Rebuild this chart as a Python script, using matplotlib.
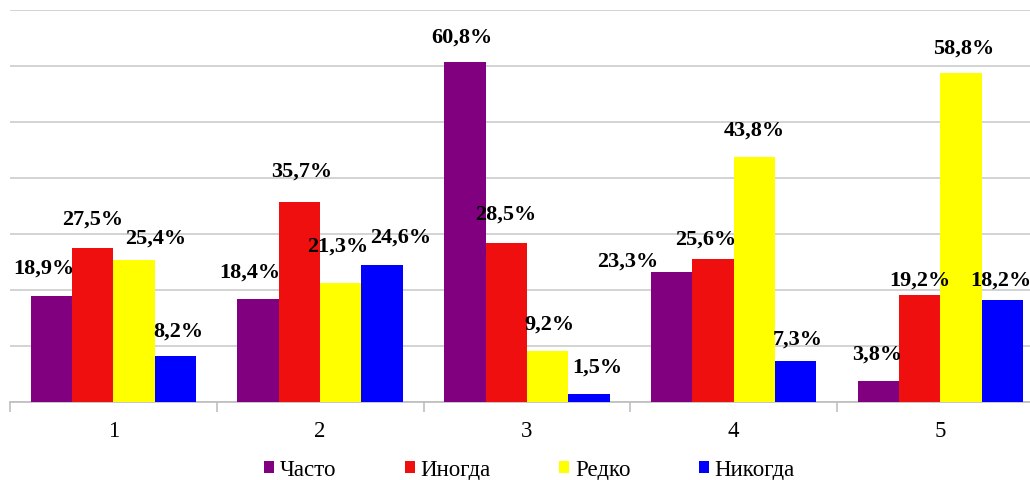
import matplotlib
matplotlib.use("Agg")
import matplotlib.pyplot as plt
from matplotlib.patches import Patch
import numpy as np

categories = ["1", "2", "3", "4", "5"]
series_names = ["Часто", "Иногда", "Редко", "Никогда"]
chasto = [18.9, 18.4, 60.8, 23.3, 3.8]
inogda = [27.5, 35.7, 28.5, 25.6, 19.2]
redko = [25.4, 21.3, 9.2, 43.8, 58.8]
nikogda = [8.2, 24.6, 1.5, 7.3, 18.2]
series_values = [chasto, inogda, redko, nikogda]

colors = ["#800080", "#F00F0F", "#FFFF00", "#0000FF"]

# label offsets (pixels: dx right, dy up from bar top) -- style/placement only
label_offsets = [
    [(-7, 29), (-8.5, 28), (-3, 25), (-44, 11), (-1.5, 27.7)],
    [(-0.5, 29.3), (2, 32), (0, 29), (-7, 20), (0, 15.3)],
    [(21.4, 22.4), (-3.5, 37), (2, 27), (0, 27.7), (3, 25.7)],
    [(3, 26), (18.5, 28), (8, 27), (2, 23), (-1.5, 21)],
]

plt.rcParams['font.family'] = ['Liberation Serif', 'DejaVu Serif']

W, H = 1030, 481
fig = plt.figure(figsize=(W / 100, H / 100), dpi=100)
left_px, right_px = 10, 1043.75
base_px, top_px = 403.3, 11.3
ax = fig.add_axes([left_px / W, 1 - base_px / H,
                   (right_px - left_px) / W, (base_px - top_px) / H])

x = np.arange(len(categories))
bw = 0.2
offs = [-0.3, -0.1, 0.1, 0.3]
px2pt = 0.72
for i, (name, vals) in enumerate(zip(series_names, series_values)):
    ax.bar(x + offs[i], vals, width=bw, color=colors[i], label=name,
           linewidth=0, zorder=3)
    for j, v in enumerate(vals):
        dx, dy = label_offsets[i][j]
        ax.annotate(f"{v:.1f}%".replace(".", ","), (x[j] + offs[i], v),
                    xytext=(dx * px2pt, dy * px2pt), textcoords="offset points",
                    ha="center", va="center", fontsize=16, fontweight="bold",
                    color="black", zorder=5, annotation_clip=False)

ax.set_xlim(-0.5, len(categories) - 0.5)
ax.set_ylim(0, 70)
ax.set_yticks(np.arange(0, 71, 10))
ax.yaxis.grid(True, color="#D0D0D0", linewidth=1.3, zorder=0)
ax.set_axisbelow(True)
ax.tick_params(axis="y", left=False, labelleft=False)

ax.set_xticks(x)
ax.set_xticklabels(categories, fontsize=16.5)
ax.set_xticks(np.arange(-0.5, len(categories), 1), minor=True)
ax.tick_params(axis="x", which="major", length=0, pad=13)
ax.tick_params(axis="x", which="minor", length=7, width=1.2, color="#C0C0C0")

for s in ["top", "right", "left"]:
    ax.spines[s].set_visible(False)
ax.spines["bottom"].set_color("#C0C0C0")
ax.spines["bottom"].set_linewidth(1.3)

handles = [Patch(facecolor=c, edgecolor="none", label=n)
           for c, n in zip(colors, series_names)]
fs_px = 16.5 / 0.72
fig.legend(handles=handles, loc="center", ncol=4,
           bbox_to_anchor=(529.5 / W, 1 - 470.5 / H),
           frameon=False, fontsize=16.5,
           handlelength=10 / fs_px, handleheight=10 / fs_px,
           handletextpad=6 / fs_px, columnspacing=68 / fs_px,
           borderpad=0, borderaxespad=0)

fig.savefig("out.png", dpi=100)
